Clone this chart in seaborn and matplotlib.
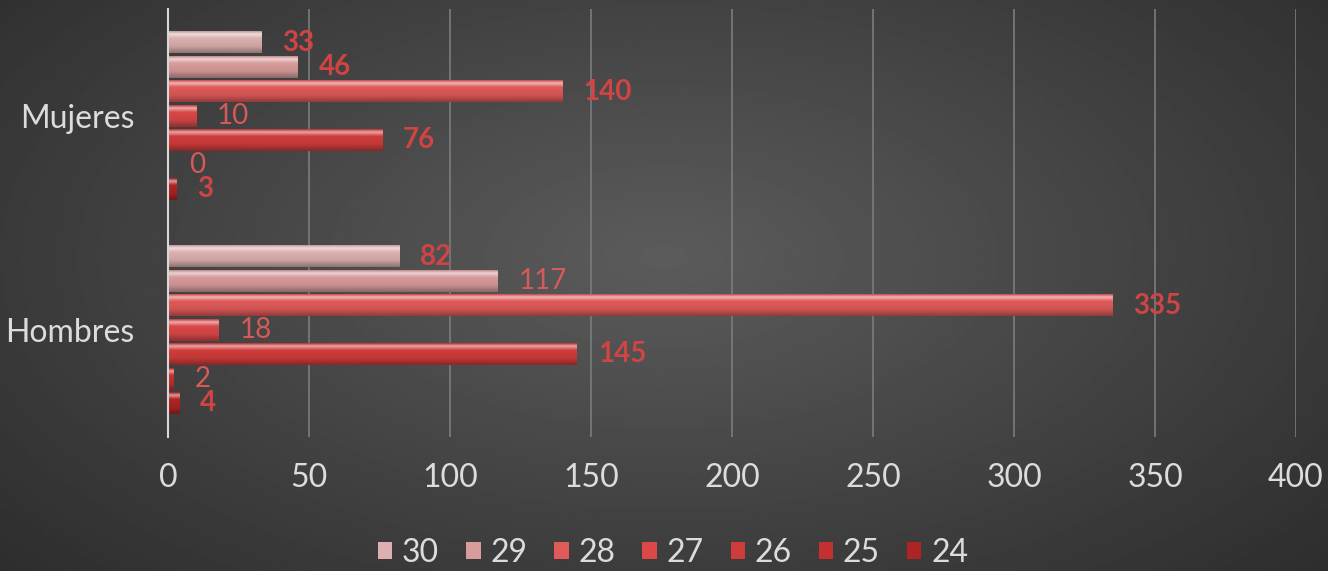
import matplotlib
matplotlib.use("Agg")
import matplotlib.pyplot as plt
import matplotlib.colors as mcolors
import seaborn as sns
import pandas as pd
import numpy as np

# values
groups = ["Mujeres", "Hombres"]
series = ["30", "29", "28", "27", "26", "25", "24"]
mujeres = [33, 46, 140, 10, 76, 0, 3]
hombres = [82, 117, 335, 18, 145, 2, 4]
x_ticks = [0, 50, 100, 150, 200, 250, 300, 350, 400]

colors = ["#dcb0b0", "#d89c9c", "#e05a5a", "#da4848", "#d03c3c", "#c43030", "#ae2424"]
light_labels = {("Mujeres", "27"), ("Mujeres", "25"),
                ("Hombres", "29"), ("Hombres", "27"), ("Hombres", "25")}

df = pd.DataFrame({
    "grupo": np.repeat(groups, len(series)),
    "edad": series * len(groups),
    "n": mujeres + hombres,
})

sns.set_style("white")
plt.rcParams["font.family"] = ["Lato", "DejaVu Sans"]

fig = plt.figure(figsize=(13.28, 5.71), dpi=100)

# dark radial background
bg = fig.add_axes([0, 0, 1, 1], zorder=-10)
yy, xx = np.mgrid[0:1:300j, 0:1:700j]
r = np.sqrt(((xx - 0.5) / 0.75) ** 2 + ((yy - 0.45) / 0.9) ** 2)
bg.imshow(0.36 - 0.2 * np.clip(r, 0, 1), cmap="gray", vmin=0, vmax=1,
          aspect="auto", extent=[0, 1, 0, 1], interpolation="bilinear")
bg.axis("off")

ax = fig.add_axes([168 / 1328, 1 - 437 / 571, 1128 / 1328, 428 / 571])
ax.patch.set_alpha(0)

sns.barplot(data=df, y="grupo", x="n", hue="edad", order=groups,
            hue_order=series, palette=colors, orient="h", gap=0.12,
            saturation=1, linewidth=0, edgecolor="none", ax=ax,
            legend=True, zorder=3)

# bevelled look: vertical gradient painted over every bar
for cont, col in zip(ax.containers, colors):
    base = np.array(mcolors.to_rgb(col))
    hi = base + (1 - base) * 0.55
    lo = base * 0.66
    cmap = mcolors.LinearSegmentedColormap.from_list(
        "bev", [(0, base * 0.9), (0.12, hi), (0.32, base), (0.7, base * 0.92), (1, lo)])
    grad = np.linspace(0, 1, 32).reshape(-1, 1)
    for p in cont.patches:
        x0, y0, w, h = p.get_x(), p.get_y(), p.get_width(), p.get_height()
        if w <= 0:
            continue
        ax.imshow(grad, cmap=cmap, aspect="auto", extent=(x0, x0 + w, y0 + h, y0),
                  origin="upper", interpolation="bilinear", zorder=4)

# value labels
for cont, s in zip(ax.containers, series):
    for p, g in zip(cont.patches, groups):
        val = p.get_width()
        light = (g, s) in light_labels
        ax.annotate(f"{val:.0f}", (val, p.get_y() + p.get_height() / 2),
                    xytext=(15, 0), textcoords="offset points",
                    ha="left", va="center", fontsize=20,
                    fontweight="normal" if light else "bold",
                    color="#d65a5a" if light else "#d04444", zorder=5)

ax.set_aspect("auto")
ax.set_xlim(0, 400)
ax.set_ylim(1.5, -0.5)
ax.set_xticks(x_ticks)
ax.set_xticklabels([str(t) for t in x_ticks])
ax.set_xlabel("")
ax.set_ylabel("")
ax.grid(axis="x", color="#7c7c7c", lw=1.2, zorder=0)
ax.grid(axis="y", visible=False)
for side in ["top", "right", "bottom"]:
    ax.spines[side].set_visible(False)
ax.spines["left"].set_color("#d8d8d8")
ax.spines["left"].set_linewidth(1.5)
ax.spines["left"].set_zorder(6)
ax.tick_params(axis="x", length=0, pad=19, labelsize=23, labelcolor="#dcdcdc")
ax.tick_params(axis="y", length=0, pad=24, labelsize=23, labelcolor="#dcdcdc")

handles, labels = ax.get_legend_handles_labels()
ax.get_legend().remove()
fig.legend(handles, labels, loc="center", bbox_to_anchor=(673 / 1328, 1 - 553 / 571),
           ncol=7, frameon=False, fontsize=23, labelcolor="#dcdcdc",
           handlelength=0.45, handleheight=0.45, handletextpad=0.3, columnspacing=0.85)

fig.savefig("out.png", dpi=100)
